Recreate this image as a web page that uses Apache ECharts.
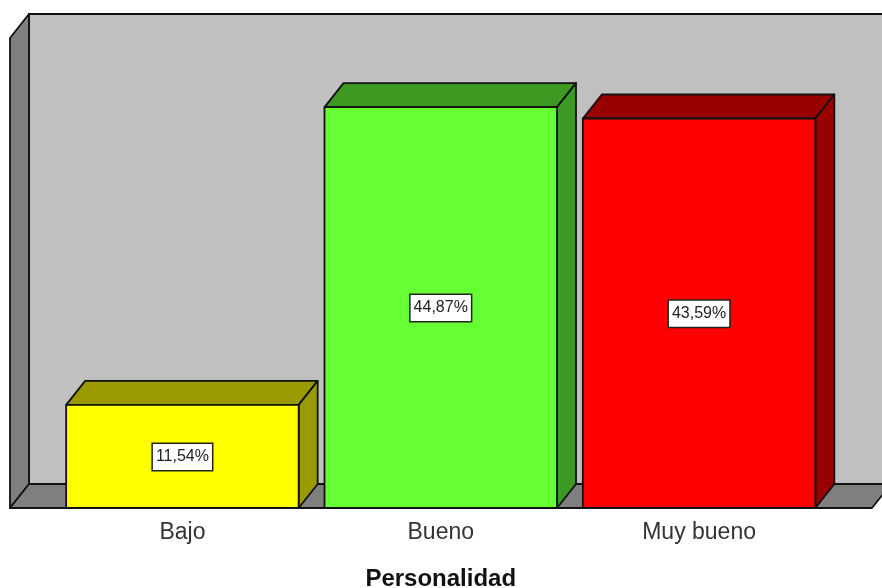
<!DOCTYPE html>
<html>
<head>
<meta charset="utf-8">
<style>html,body{margin:0;padding:0;background:#fff}#c{width:882px;height:588px}</style>
<script src="https://cdn.jsdelivr.net/npm/echarts@6/dist/echarts.min.js"></script>
</head>
<body>
<div id="c"></div>
<script>
// Percentage of respondents per "Personalidad" level
const categories = ['Bajo', 'Bueno', 'Muy bueno'];
const percentages = [11.54, 44.87, 43.59];
const frontColors = ['#ffff00', '#66ff33', '#ff0000'];
const shadeColors = ['#999900', '#3d9921', '#990000'];

// Extrusion offset of the 3D box effect, in pixels
const DEPTH_X = 19, DEPTH_Y = 24;
const EDGE = { stroke: '#111', lineWidth: 1.8, lineJoin: 'round' };

const chart = echarts.init(document.getElementById('c'));

function poly(points, fill) {
  return { type: 'polygon', shape: { points }, style: Object.assign({ fill }, EDGE) };
}

// Back wall, side wall and floor of the chart's box
function renderRoom(params, api) {
  const cs = params.coordSys;
  const bottom = cs.y + cs.height, top = cs.y;
  const left = 10, right = 872;
  return {
    type: 'group',
    children: [
      poly([[left + DEPTH_X, top - DEPTH_Y], [right + DEPTH_X, top - DEPTH_Y],
            [right + DEPTH_X, bottom - DEPTH_Y], [left + DEPTH_X, bottom - DEPTH_Y]], '#c0c0c0'),
      poly([[left, top], [left + DEPTH_X, top - DEPTH_Y],
            [left + DEPTH_X, bottom - DEPTH_Y], [left, bottom]], '#7f7f7f'),
      poly([[left, bottom], [left + DEPTH_X, bottom - DEPTH_Y],
            [right + DEPTH_X, bottom - DEPTH_Y], [right, bottom]], '#7f7f7f')
    ]
  };
}

// One extruded bar with its value tag centred on the front face
function renderBar(params, api) {
  const i = params.dataIndex;
  const value = api.value(1);
  const [cx, yTop] = api.coord([api.value(0), value]);
  const [, yBase] = api.coord([api.value(0), 0]);
  const w = api.size([1, 0])[0] * 0.9;
  const x0 = cx - w / 2, x1 = cx + w / 2;
  return {
    type: 'group',
    children: [
      poly([[x0, yTop], [x0 + DEPTH_X, yTop - DEPTH_Y], [x1 + DEPTH_X, yTop - DEPTH_Y], [x1, yTop]], shadeColors[i]),
      poly([[x1, yTop], [x1 + DEPTH_X, yTop - DEPTH_Y], [x1 + DEPTH_X, yBase - DEPTH_Y], [x1, yBase]], shadeColors[i]),
      poly([[x0, yTop], [x1, yTop], [x1, yBase], [x0, yBase]], frontColors[i]),
      {
        type: 'text',
        z2: 10,
        style: {
          x: cx,
          y: (yTop + yBase) / 2 + 0.5,
          text: value.toFixed(2).replace('.', ',') + '%',
          align: 'center',
          verticalAlign: 'middle',
          font: '16px "Liberation Sans", Arial, sans-serif',
          fill: '#222',
          backgroundColor: '#fff',
          borderColor: '#222',
          borderWidth: 1.5,
          padding: [5, 3, 5, 3]
        }
      }
    ]
  };
}

chart.setOption({
  animation: false,
  backgroundColor: '#fff',
  grid: { left: 53.25, width: 775, top: 38, height: 470, outerBoundsMode: 'none' },
  xAxis: {
    type: 'category',
    data: categories,
    axisLine: { show: false },
    axisTick: { show: false },
    axisLabel: {
      margin: 13, fontSize: 23, color: '#333',
      fontFamily: '"Liberation Sans", Arial, sans-serif'
    },
    name: 'Personalidad',
    nameLocation: 'middle',
    nameGap: 59,
    nameTextStyle: {
      fontSize: 24, fontWeight: 'bold', color: '#111',
      fontFamily: '"Liberation Sans", Arial, sans-serif'
    }
  },
  yAxis: { type: 'value', min: 0, max: 52.6, show: false, splitLine: { show: false } },
  series: [
    { type: 'custom', renderItem: renderRoom, data: [[0, 0]], silent: true, z: 1, clip: false },
    {
      type: 'custom',
      renderItem: renderBar,
      encode: { x: 0, y: 1 },
      data: categories.map((c, i) => [i, percentages[i]]),
      z: 2,
      clip: false
    }
  ]
});
</script>
</body>
</html>
